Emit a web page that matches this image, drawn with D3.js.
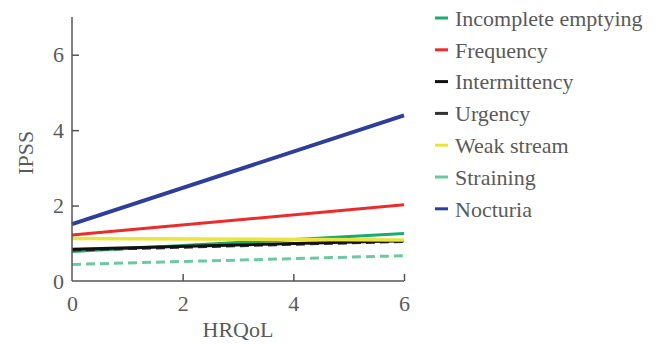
<!DOCTYPE html>
<html><head><meta charset="utf-8">
<script src="https://cdn.jsdelivr.net/npm/d3@7"></script>
<style>body{margin:0;background:#fff}svg{display:block}</style>
</head><body>
<svg id="c" width="662" height="344"></svg>
<script>
const seriesNames = ["Incomplete emptying","Frequency","Intermittency","Urgency","Weak stream","Straining","Nocturia"];
const hrqol = [0, 6];
const incompleteEmptying = [0.78, 1.26];
const frequency = [1.22, 2.02];
const intermittency = [0.84, 1.07];
const urgency = [0.82, 1.05];
const weakStream = [1.13, 1.09];
const straining = [0.44, 0.67];
const nocturia = [1.51, 4.39];
const xTicks = [0, 2, 4, 6];
const yTicks = [0, 2, 4, 6];

const seriesValues = [incompleteEmptying, frequency, intermittency, urgency, weakStream, straining, nocturia];
const colors = ["#1aab74","#ee2b2b","#111111","#333333","#e9e53c","#6cc9a0","#2d3e9b"];
const dashes = [null,null,null,"9,5",null,"9,5",null];
const widths = [3,3,3,3,3.5,3,4];

const svg = d3.select("#c");
const font = "'Liberation Serif', 'Times New Roman', serif";
const fs = "22px";
const x = d3.scaleLinear().domain([0,6]).range([72,404]);
const y = d3.scaleLinear().domain([0,7]).range([281,17]);
const axisColor = "#555";
const textColor = "#5a5a5a";

const line = d3.line().x(d=>x(d[0])).y(d=>y(d[1]));
const order = [5,0,3,2,4,1,6];
order.forEach(i=>{
  const pts = hrqol.map((h,k)=>[h, seriesValues[i][k]]);
  svg.append("path").attr("d", line(pts)).attr("fill","none")
    .attr("stroke", colors[i]).attr("stroke-width", widths[i])
    .attr("stroke-dasharray", dashes[i]);
});

const xAxis = d3.axisBottom(x).tickValues(xTicks).tickFormat(d3.format("d")).tickSize(-7).tickPadding(14);
const gx = svg.append("g").attr("transform",`translate(0,${y(0)})`).call(xAxis);
const yAxis = d3.axisLeft(y).tickValues(yTicks).tickFormat(d3.format("d")).tickSize(-7).tickPadding(8);
const gy = svg.append("g").attr("transform",`translate(${x(0)},0)`).call(yAxis);
[gx,gy].forEach(g=>{
  g.select(".domain").attr("stroke",axisColor).attr("stroke-width",1.5);
  g.selectAll(".tick line").attr("stroke",axisColor).attr("stroke-width",1.5);
  g.selectAll(".tick text").attr("fill",textColor).style("font-family",font).style("font-size",fs);
});
gx.select(".domain").attr("d", `M${x(0)},0H${x(6)}`);
gy.select(".domain").attr("d", `M0,${y(0)}V${y(7)}`);
gx.selectAll(".tick").filter(d=>d===0).select("line").remove();
gy.selectAll(".tick").filter(d=>d===0).select("line").remove();

svg.append("text").attr("x", (x(0)+x(6))/2).attr("y", 337).attr("text-anchor","middle")
  .attr("fill",textColor).style("font-family",font).style("font-size",fs).text("HRQoL");
svg.append("text").attr("transform",`translate(33,${y(3.4)}) rotate(-90)`).attr("text-anchor","middle")
  .attr("fill",textColor).style("font-family",font).style("font-size",fs).text("IPSS");

const lg = svg.append("g");
seriesNames.forEach((n,i)=>{
  const cy = 18 + i*31.8;
  lg.append("line").attr("x1",435).attr("x2",448).attr("y1",cy).attr("y2",cy)
    .attr("stroke",colors[i]).attr("stroke-width",3);
  lg.append("text").attr("x",455).attr("y",cy).attr("dy","0.35em")
    .attr("fill",textColor).style("font-family",font).style("font-size",fs).text(n);
});
</script>
</body></html>
